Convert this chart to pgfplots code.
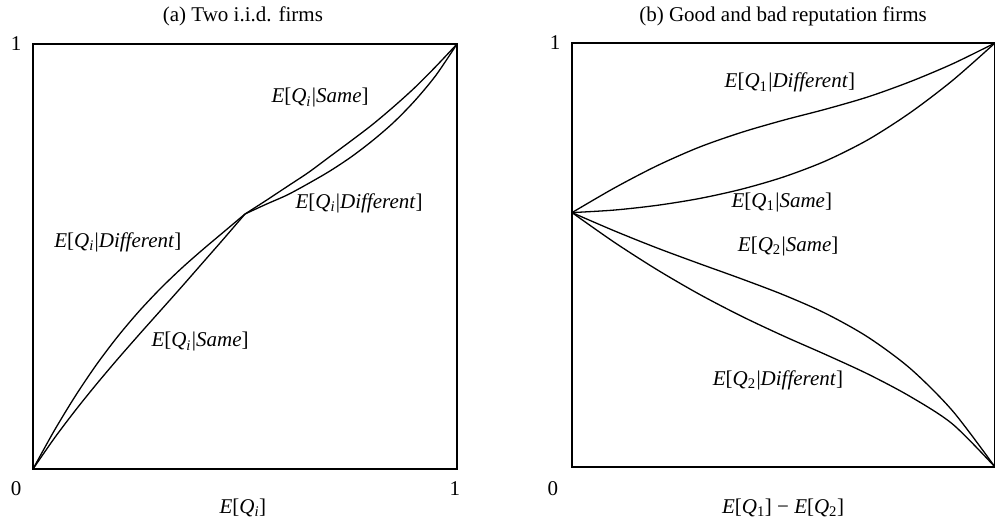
\documentclass[border=0pt]{standalone}
\usepackage{fontspec}
\setmainfont{Liberation Serif}
\usepackage{pgfplots}
\pgfplotsset{compat=1.18}
\newcommand{\EQ}[2]{\textit{E}[\textit{Q}\textsubscript{#1}\kern0.04em|\textit{#2}]}
\pgfplotsset{
  panel/.style={
    scale only axis, xmin=0, xmax=1, ymin=0, ymax=1,
    xtick=\empty, ytick=\empty, clip=false,
    axis line style={line width=2bp},
    font=\fontsize{21bp}{25bp}\selectfont,
    cycle list={{black}},
    every axis plot/.append style={line width=1.3bp, black, no marks, smooth},
  }
}
\begin{document}
\begin{tikzpicture}[font=\fontsize{21bp}{25bp}\selectfont]
\path[use as bounding box] (0,0) rectangle (995bp,-529bp);
% ---------------- panel (a)
\begin{axis}[panel, at={(33bp,-469bp)}, anchor=south west, width=424bp, height=425bp]
% Different, left part
\addplot coordinates {(0,0) (0.05,0.09) (0.1,0.172) (0.15,0.246) (0.2,0.312) (0.25,0.371) (0.3,0.424) (0.35,0.472) (0.4,0.516) (0.45,0.558) (0.5,0.6)};
% Same, left part
\addplot coordinates {(0,0) (0.05,0.072) (0.1,0.138) (0.15,0.2) (0.2,0.259) (0.25,0.316) (0.3,0.372) (0.35,0.428) (0.4,0.485) (0.45,0.542) (0.5,0.6)};
% Same, right part
\addplot coordinates {(0.5,0.6) (0.55,0.632) (0.6,0.665) (0.65,0.698) (0.7,0.735) (0.75,0.772) (0.8,0.81) (0.85,0.852) (0.9,0.897) (0.95,0.947) (1,1)};
% Different, right part
\addplot coordinates {(0.5,0.6) (0.55,0.623) (0.6,0.645) (0.65,0.672) (0.7,0.701) (0.75,0.734) (0.8,0.772) (0.85,0.815) (0.9,0.866) (0.95,0.926) (1,1)};
\node at (axis cs:0.495,1.066) {(a) Two i.i.d. firms};
\node at (axis cs:0.495,-0.092) {\textit{E}[\textit{Q}\textsubscript{\textit{i}}]};
\node at (axis cs:-0.040,-0.045) {0};
\node at (axis cs:-0.040,1.002) {1};
\node at (axis cs:0.995,-0.045) {1};
\node at (axis cs:0.677,0.873) {\EQ{\textit{i}}{Same}};
\node at (axis cs:0.769,0.626) {\EQ{\textit{i}}{Different}};
\node at (axis cs:0.200,0.534) {\EQ{\textit{i}}{Different}};
\node at (axis cs:0.394,0.299) {\EQ{\textit{i}}{Same}};
\end{axis}
% ---------------- panel (b)
\begin{axis}[panel, at={(572bp,-467bp)}, anchor=south west, width=423bp, height=424bp]
% Q1 Different
\addplot coordinates {(0,0.6) (0.1,0.658) (0.2,0.71) (0.3,0.754) (0.4,0.789) (0.5,0.818) (0.6,0.844) (0.7,0.873) (0.8,0.909) (0.9,0.951) (1,1)};
% Q1 Same
\addplot coordinates {(0,0.6) (0.1,0.606) (0.2,0.617) (0.3,0.633) (0.4,0.655) (0.5,0.684) (0.6,0.722) (0.7,0.772) (0.8,0.836) (0.9,0.912) (1,1)};
% Q2 Same
\addplot coordinates {(0,0.6) (0.1,0.557) (0.2,0.517) (0.3,0.48) (0.4,0.444) (0.5,0.406) (0.6,0.362) (0.7,0.306) (0.8,0.232) (0.9,0.132) (1,0)};
% Q2 Different
\addplot coordinates {(0,0.6) (0.1,0.53) (0.2,0.466) (0.3,0.408) (0.4,0.356) (0.5,0.309) (0.6,0.265) (0.7,0.219) (0.8,0.166) (0.9,0.101) (1,0)};
\node at (axis cs:0.499,1.064) {(b) Good and bad reputation firms};
\node at (axis cs:0.499,-0.097) {\textit{E}[\textit{Q}\textsubscript{1}] − \textit{E}[\textit{Q}\textsubscript{2}]};
\node at (axis cs:-0.045,-0.050) {0};
\node at (axis cs:-0.040,1.0) {1};
\node at (axis cs:0.515,0.906) {\EQ{1}{Different}};
\node at (axis cs:0.496,0.625) {\EQ{1}{Same}};
\node at (axis cs:0.511,0.521) {\EQ{2}{Same}};
\node at (axis cs:0.487,0.205) {\EQ{2}{Different}};
\end{axis}
\end{tikzpicture}
\end{document}
